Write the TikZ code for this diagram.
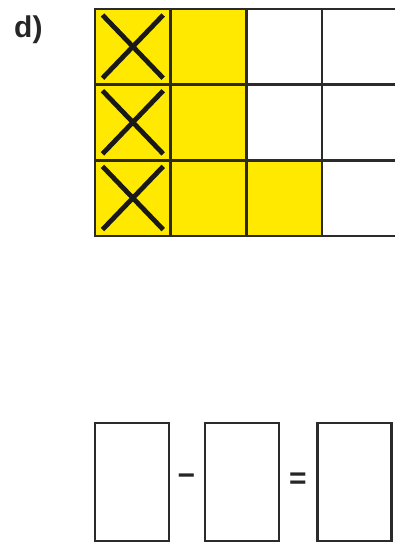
\documentclass[tikz,border=0pt]{standalone}
\usepackage{fontspec}
\setmainfont{Liberation Sans}
\usetikzlibrary{positioning}
\definecolor{markyellow}{HTML}{FFE900}
\definecolor{gridgray}{HTML}{2B2B2B}

\begin{document}
\begin{tikzpicture}[x=1pt, y=-1pt,
    cell/.style={rectangle, draw=gridgray, line width=2.5pt, minimum width=75.7pt, minimum height=75.7pt, inner sep=0pt, outer sep=0pt},
    filled/.style={cell, fill=markyellow},
    cross/.style={line width=4.8pt, black!90},
    answerbox/.style={rectangle, draw=gridgray, line width=2.2pt, minimum width=74pt, minimum height=118pt, inner sep=0pt},
    sign/.style={font=\bfseries\fontsize{30}{30}\selectfont, inner sep=0pt, text=black!85}
]
\useasboundingbox (0,0) rectangle (394,544);

% Task label
\node[font=\bfseries\fontsize{30}{30}\selectfont, text=black!85, anchor=base west, inner sep=0pt] (label) at (14,37.5) {d)};

% Grid of 3 rows x 4 columns (last column runs off the page)
\foreach \r in {1,2,3}
  \foreach \c in {1,2,3,4}
    \node[cell] (c-\r-\c) at ({95+75.7*(\c-0.5)}, {9+75.7*(\r-0.5)}) {};

% Yellow cells
\foreach \r/\c in {1/1, 1/2, 2/1, 2/2, 3/1, 3/2, 3/3}
  \node[filled] at (c-\r-\c) {};

% Crossed out cells
\foreach \r in {1,2,3} {
  \draw[cross] ([shift={(7.5,6)}]c-\r-1.north west) -- ([shift={(-7.5,-6.5)}]c-\r-1.south east);
  \draw[cross] ([shift={(7.5,-6.5)}]c-\r-1.south west) -- ([shift={(-7.5,6)}]c-\r-1.north east);
}

% Answer boxes
\node[answerbox] (first) at (132,482) {};
\node[answerbox] (second) at (242,482) {};
\node[answerbox] (result) at (354.5,482) {};
\node[sign] (minus) at (186.5,480) {−};
\node[sign] (equals) at (298,480.5) {=};

\end{tikzpicture}
\end{document}
